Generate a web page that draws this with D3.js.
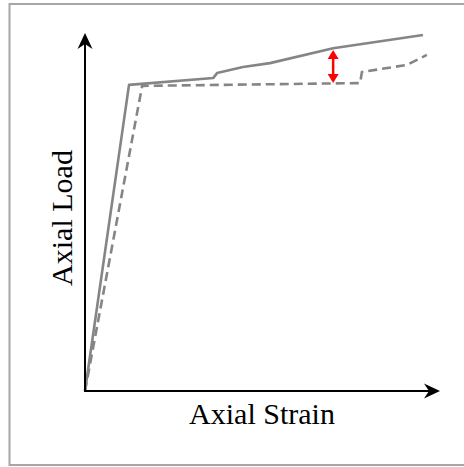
<!DOCTYPE html>
<html>
<head>
<meta charset="utf-8">
<script src="https://cdn.jsdelivr.net/npm/d3@7"></script>
<style>
  body { margin: 0; background: #fff; }
  svg { display: block; }
</style>
</head>
<body>
<div id="svg-container"></div>
<script>
// Solid curve (upper) - arbitrary units
var solidStrain = [0, 12.4, 36.1, 37.2, 44.5, 52.1, 69.9, 95.2];
var solidLoad   = [0, 86.0, 87.9, 89.3, 91.0, 92.1, 96.3, 100];

// Dashed curve (lower)
var dashedStrain = [0, 16.1, 77.5, 78.0, 90.7, 96.3];
var dashedLoad   = [0, 85.7, 86.5, 89.6, 91.6, 94.4];

// Red double arrow between the two curves
var gapStrain = 69.9;
var gapLoad = [95.8, 86.5];

var axisLabels = {x: "Axial Strain", y: "Axial Load"};

var W = 464, H = 467;

var x = d3.scaleLinear().domain([0, 100]).range([85, 440]);
var y = d3.scaleLinear().domain([0, 100]).range([391, 35]);

var svg = d3.select("#svg-container")
    .append("svg")
    .attr("width", W)
    .attr("height", H);

// Frame
svg.append("rect")
    .attr("x", 9.5)
    .attr("y", 4)
    .attr("width", 470)
    .attr("height", 461)
    .attr("fill", "none")
    .attr("stroke", "#a6a6a6")
    .attr("stroke-width", 2);

function zip(xs, ys) {
    return xs.map(function (v, i) { return [v, ys[i]]; });
}

var line = d3.line()
    .x(function (d) { return x(d[0]); })
    .y(function (d) { return y(d[1]); });

// Curves
svg.append("path")
    .datum(zip(dashedStrain, dashedLoad))
    .attr("d", line)
    .attr("fill", "none")
    .attr("stroke", "#858585")
    .attr("stroke-width", 2.6)
    .attr("stroke-dasharray", "9,5");

svg.append("path")
    .datum(zip(solidStrain, solidLoad))
    .attr("d", line)
    .attr("fill", "none")
    .attr("stroke", "#858585")
    .attr("stroke-width", 2.6)
    .attr("stroke-linejoin", "round");

// Axes (plain lines with stealth arrow heads)
var x0 = x(0), y0 = y(0);
var xEnd = x(100), yEnd = y(100);

svg.append("line")
    .attr("x1", x0).attr("y1", y0)
    .attr("x2", xEnd - 6).attr("y2", y0)
    .attr("stroke", "#000").attr("stroke-width", 2);

svg.append("line")
    .attr("x1", x0).attr("y1", y0 + 1)
    .attr("x2", x0).attr("y2", yEnd + 6)
    .attr("stroke", "#000").attr("stroke-width", 2);

function arrowHead(tx, ty, angle, len, half, notch, fill) {
    svg.append("path")
        .attr("d", "M0,0 L" + (-len) + "," + (-half) + " L" + (-len + notch) + ",0 L" + (-len) + "," + half + " Z")
        .attr("transform", "translate(" + tx + "," + ty + ") rotate(" + angle + ")")
        .attr("fill", fill);
}

arrowHead(xEnd, y0, 0, 16, 7.5, 5, "#000");
arrowHead(x0, yEnd - 2, -90, 16, 7.5, 5, "#000");

// Red double arrow
var gx = x(gapStrain);
svg.append("line")
    .attr("x1", gx).attr("y1", y(gapLoad[0]) + 6)
    .attr("x2", gx).attr("y2", y(gapLoad[1]) - 6)
    .attr("stroke", "#ff0000").attr("stroke-width", 2.5);
arrowHead(gx, y(gapLoad[0]), -90, 9, 5.5, 0, "#ff0000");
arrowHead(gx, y(gapLoad[1]), 90, 9, 5.5, 0, "#ff0000");

// Axis titles
svg.append("text")
    .attr("x", 262)
    .attr("y", 424)
    .style("text-anchor", "middle")
    .style("font-family", "'Liberation Serif', 'Times New Roman', serif")
    .style("font-size", "30px")
    .attr("fill", "#000")
    .text(axisLabels.x);

svg.append("text")
    .attr("transform", "translate(72,218) rotate(-90)")
    .style("text-anchor", "middle")
    .style("font-family", "'Liberation Serif', 'Times New Roman', serif")
    .style("font-size", "30px")
    .attr("fill", "#000")
    .text(axisLabels.y);
</script>
</body>
</html>
